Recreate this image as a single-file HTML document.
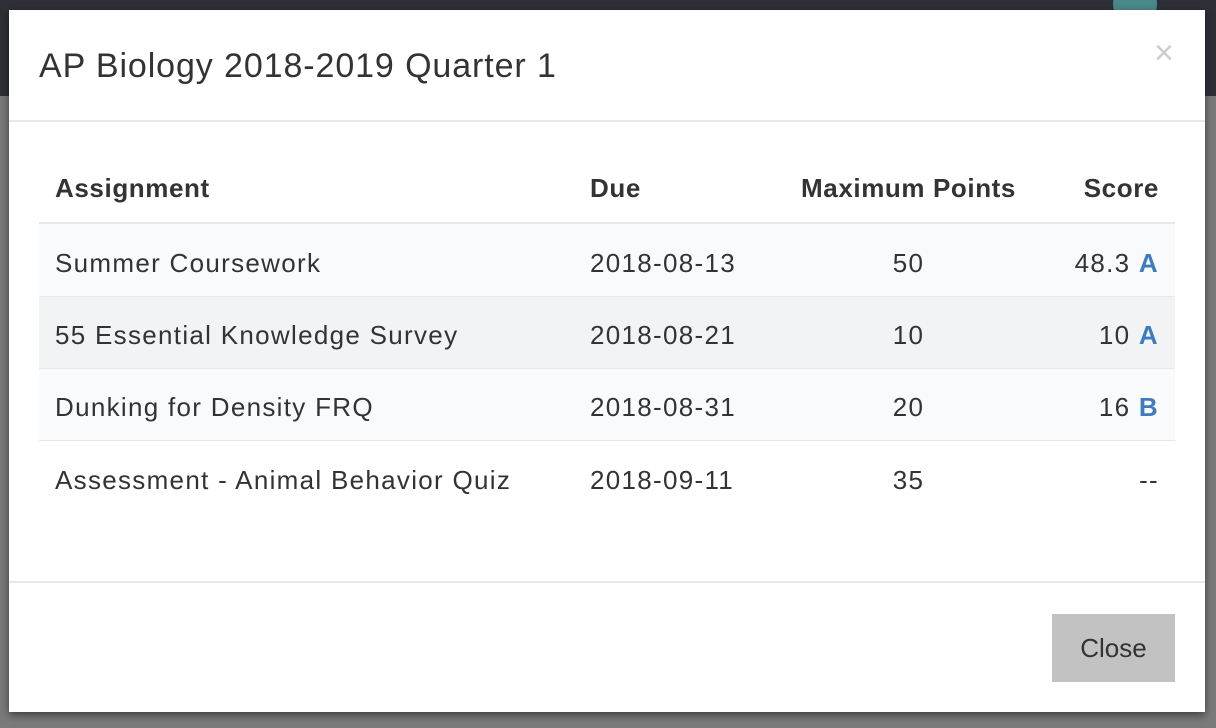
<!DOCTYPE html>
<html><head><style>
body{margin:0;width:1216px;height:728px;overflow:hidden;position:relative;font-family:"Liberation Sans",sans-serif;color:#333;background:#7a7a7a}
.top{position:absolute;left:0;top:0;width:1216px;height:96px;background:#2f2f38}
.avatar{position:absolute;left:1113px;top:-18px;width:44px;height:44px;border-radius:50%;background:#4a8a8c}
.modal{position:absolute;left:9px;top:10px;width:1196px;height:702px;background:#fff;box-shadow:0 3px 8px rgba(0,0,0,.5)}
.title{position:absolute;left:30px;top:37px;font-size:34px;color:#333;letter-spacing:0.9px}
.x{position:absolute;left:1145px;top:24px;font-size:34px;color:#ccc}
.hb{position:absolute;left:0;top:110px;width:1196px;height:2px;background:#e8e8e8}
.fb{position:absolute;left:0;top:571px;width:1196px;height:2px;background:#e8e8e8}
.row{position:absolute;left:30px;width:1136px;font-size:26px;letter-spacing:1.3px}
.row div{position:absolute;top:0;white-space:nowrap}
.c1{left:16px}.c2{left:551px}.c3{left:742px;width:255px;text-align:center}.c4{right:16px}
.h{font-weight:bold;letter-spacing:0.6px}
.g{color:#3f7bbf;font-weight:bold}
.btn{position:absolute;left:1043px;top:604px;width:123px;height:68px;background:#c2c2c2;font-size:26px;text-align:center;line-height:68px;color:#333}
</style></head><body>
<div class="top"><div class="avatar"></div></div>
<div class="modal">
<div class="title">AP Biology 2018-2019 Quarter 1</div>
<div class="x">×</div>
<div class="hb"></div>
<div class="row h" style="top:163px;height:52px"><div class="c1">Assignment</div><div class="c2">Due</div><div class="c3">Maximum Points</div><div class="c4">Score</div></div>
<div style="position:absolute;left:30px;top:212px;width:1136px;height:2px;background:#e6e8ec"></div>
<div style="position:absolute;left:30px;top:214px;width:1136px;height:72px;background:#f9fafc;border-bottom:1px solid #e6e8ec"></div>
<div style="position:absolute;left:30px;top:287px;width:1136px;height:71px;background:#f2f3f5;border-bottom:1px solid #e6e8ec"></div>
<div style="position:absolute;left:30px;top:359px;width:1136px;height:71px;background:#f9fafc;border-bottom:1px solid #e6e8ec"></div>
<div class="row" style="top:238px"><div class="c1">Summer Coursework</div><div class="c2">2018-08-13</div><div class="c3">50</div><div class="c4">48.3 <span class="g">A</span></div></div>
<div class="row" style="top:310px"><div class="c1">55 Essential Knowledge Survey</div><div class="c2">2018-08-21</div><div class="c3">10</div><div class="c4">10 <span class="g">A</span></div></div>
<div class="row" style="top:382px"><div class="c1">Dunking for Density FRQ</div><div class="c2">2018-08-31</div><div class="c3">20</div><div class="c4">16 <span class="g">B</span></div></div>
<div class="row" style="top:455px"><div class="c1">Assessment - Animal Behavior Quiz</div><div class="c2">2018-09-11</div><div class="c3">35</div><div class="c4">--</div></div>
<div class="fb"></div>
<div class="btn">Close</div>
</div>
</body></html>
